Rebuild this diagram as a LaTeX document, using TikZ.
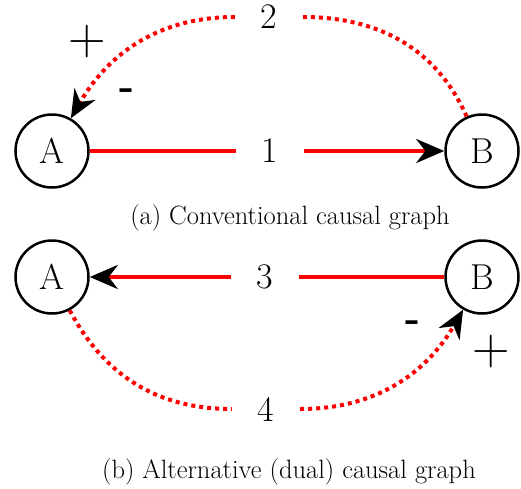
\documentclass[tikz,border=0pt]{standalone}
\usetikzlibrary{arrows.meta}
\begin{document}
\begin{tikzpicture}[x=1pt,y=1pt,
 vertex/.style={circle, draw, line width=2.5pt, minimum size=73pt, inner sep=0pt, font=\fontsize{36}{40}\selectfont},
 lbl/.style={font=\fontsize{36}{40}\selectfont, minimum width=68pt, minimum height=30pt, inner sep=0pt},
 solidedge/.style={red, line width=4pt},
 dotedge/.style={red, line width=4pt, dash pattern=on 4pt off 4pt},
 tipped/.style={-{Stealth[black,length=28pt,width=24pt,inset=9pt]}},
 captext/.style={font=\fontsize{26.5}{30}\selectfont},
 plustext/.style={font=\fontsize{52}{56}\selectfont},
 minustext/.style={font=\fontsize{40}{44}\selectfont\bfseries}
]
\useasboundingbox (0,0) rectangle (521,-488);
% top graph
\node[vertex] (A1) at (52,-151) {A};
\node[vertex] (B1) at (482,-151) {B};
\node[lbl] (n1) at (270,-151) {1};
\node[lbl] (n2) at (269,-17) {2};
\draw[solidedge] (A1) -- (n1);
\draw[solidedge,tipped] (n1) -- (B1);
\draw[dotedge] (B1) to[out=114,in=0] (n2);
\draw[dotedge,tipped] (n2) to[out=180,in=60] (A1);
\node[plustext] (p1) at (87,-42) {+};
\node[minustext] (m1) at (127,-94) {-};
\node[captext] (c1) at (290,-218) {(a) Conventional causal graph};
% bottom graph
\node[vertex] (A2) at (52,-277) {A};
\node[vertex] (B2) at (482,-277) {B};
\node[lbl] (n3) at (265,-277) {3};
\node[lbl] (n4) at (266,-409) {4};
\draw[solidedge] (B2) -- (n3);
\draw[solidedge,tipped] (n3) -- (A2);
\draw[dotedge] (A2) to[out=-62,in=180] (n4);
\draw[dotedge,tipped] (n4) to[out=0,in=-120] (B2);
\node[minustext] (m2) at (413,-326) {-};
\node[plustext] (p2) at (491,-352) {+};
\node[captext] (c2) at (289,-472) {(b) Alternative (dual) causal graph};
\end{tikzpicture}
\end{document}
